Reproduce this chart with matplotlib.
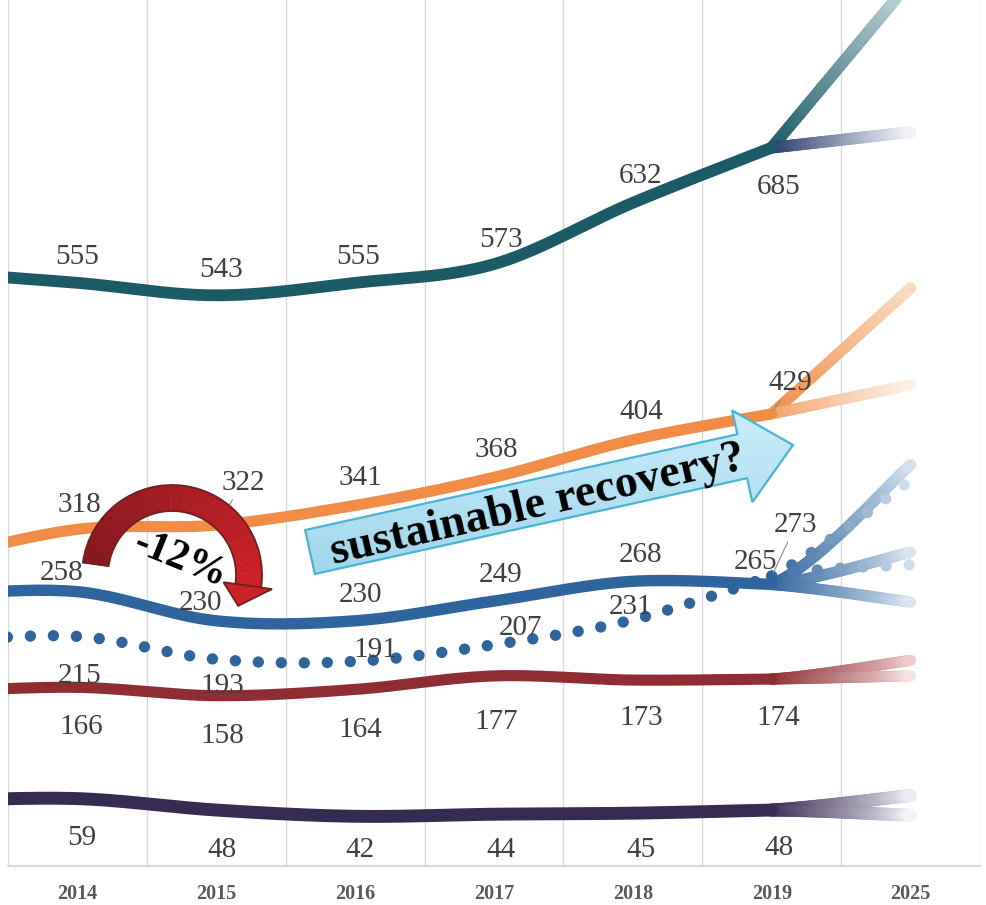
import numpy as np
import matplotlib
matplotlib.use("Agg")
import matplotlib.pyplot as plt
from matplotlib.collections import LineCollection
from matplotlib.patches import Wedge, Polygon, FancyArrow
from matplotlib.colors import to_rgb, LinearSegmentedColormap

plt.rcParams['font.family'] = ['Liberation Serif', 'DejaVu Serif']

years = ["2014", "2015", "2016", "2017", "2018", "2019", "2025"]

teal = [555, 543, 555, 573, 632, 685]
orange = [318, 322, 341, 368, 404, 429]
blue = [258, 230, 230, 249, 268, 265]
blue_dotted = [215, 193, 191, 207, 231, 273]
red = [166, 158, 164, 177, 173, 174]
purple = [59, 48, 42, 44, 45, 48]

teal_2013 = 565
orange_2013 = 290
blue_2013 = 255
blue_dotted_2013 = 210
red_2013 = 162
purple_2013 = 57

# unlabelled 2025 scenario ends
teal_2025 = [845, 700]
orange_2025 = [550, 457]
blue_2025 = [380, 296, 248]
blue_dotted_2025 = [365, 284]
red_2025 = [192, 177]
purple_2025 = [62, 43]

# label offsets in pixels (dx right, dy down)
teal_off = [(0, -26), (5, -25), (3, -26), (7, -24), (8, -27), (7, 39)]
orange_off = [(2, -24), (27, -42), (5, -27), (2, -27), (8, -28), (19, -31)]
blue_off = [(-16, -19), (-16, -18), (5, -26), (7, -26), (8, -26), (-16, -22)]
dotted_off = [(2, 40), (6, 27), (20, -11), (27, -17), (-2, -13), (24, -51)]
red_off = [(4, 40), (6, 40), (5, 41), (2, 46), (8, 38), (7, 39)]
purple_off = [(4, 39), (6, 40), (5, 34), (7, 36), (8, 37), (7, 38)]
leaders = {("orange", 1), ("orange", 5), ("dotted", 5)}


def smooth(xs, ys, n=40):
    pts = np.column_stack([xs, ys]).astype(float)
    p = np.vstack([pts[0], pts, pts[-1]])
    out = []
    t = np.linspace(0, 1, n, endpoint=False)[:, None]
    for i in range(1, len(p) - 2):
        p0, p1, p2, p3 = p[i - 1], p[i], p[i + 1], p[i + 2]
        c1 = p1 + (p2 - p0) / 6
        c2 = p2 - (p3 - p1) / 6
        out.append((1 - t) ** 3 * p1 + 3 * (1 - t) ** 2 * t * c1
                   + 3 * (1 - t) * t ** 2 * c2 + t ** 3 * p2)
    out.append(p[-2][None])
    return np.vstack(out)


def ramp(c0, c1, n):
    a, b = np.array(to_rgb(c0)), np.array(to_rgb(c1))
    f = np.linspace(0, 1, n)[:, None]
    return a + (b - a) * f


fig = plt.figure(figsize=(9.87, 9.05), dpi=100)
ax = fig.add_axes([8 / 987, 39 / 905, 972 / 987, 866 / 905])
ax.set_xlim(-0.5, 6.5)
ax.set_ylim(-5.8, 827)
for s in ["left", "top", "right"]:
    ax.spines[s].set_visible(False)
ax.spines["bottom"].set_color("#d9d9d9")
ax.spines["bottom"].set_linewidth(1.5)
ax.set_yticks([])
ax.set_xticks(range(len(years)))
ax.set_xticklabels(years, fontsize=14.5, fontweight="bold", color="#595959")
ax.tick_params(axis="x", length=0, pad=13)
for gx in np.arange(-0.5, 7, 1):
    ax.axvline(gx, color="#d9d9d9", lw=1, zorder=0)

xs = [-1, 0, 1, 2, 3, 4, 5]


def fan_curve(vals, first, e, straight):
    if straight:
        return np.column_stack([np.linspace(5, 6, 40), np.linspace(vals[-1], e, 40)])
    full = smooth(xs + [6], [first] + vals + [e])
    return full[full[:, 0] >= 5]


def solid_series(vals, first, ends, color, starts, fades, lw, offs, name, straight=False):
    curve = smooth(xs, [first] + vals)
    ax.plot(curve[:, 0], curve[:, 1], color=color, lw=lw,
            solid_capstyle="round", zorder=3)
    for e, c0, c1 in zip(ends, starts, fades):
        fan = fan_curve(vals, first, e, straight)
        segs = np.stack([fan[:-1], fan[1:]], axis=1)
        lc = LineCollection(segs, colors=ramp(c0, c1, len(segs)), linewidths=lw,
                            capstyle="round", zorder=2)
        ax.add_collection(lc)
    label_series(vals, offs, name)


def label_series(vals, offs, name):
    for i, (v, (dx, dy)) in enumerate(zip(vals, offs)):
        kw = {}
        if (name, i) in leaders:
            kw["arrowprops"] = dict(arrowstyle="-", color="#8c8c8c", lw=0.8,
                                    shrinkA=1, shrinkB=3)
        ax.annotate(str(v), (i, v), xytext=(dx, -dy), textcoords="offset pixels",
                    ha="center", va="center", fontsize=21, color="#404040",
                    zorder=6, **kw)


def dotted_series(vals, first, ends, color, fade, size, step, offs):
    fig.canvas.draw()

    def dots(curve, start_col, end_col):
        pix = ax.transData.transform(curve)
        d = np.r_[0, np.cumsum(np.hypot(*np.diff(pix, axis=0).T))]
        at = np.arange(0, d[-1] + 0.01, step)
        px = np.column_stack([np.interp(at, d, pix[:, 0]), np.interp(at, d, pix[:, 1])])
        pts = ax.transData.inverted().transform(px)
        ax.scatter(pts[:, 0], pts[:, 1], s=size, c=ramp(start_col, end_col, len(pts)),
                   linewidths=0, zorder=4)

    dots(smooth(xs, [first] + vals), color, color)
    for e in ends:
        dots(fan_curve(vals, first, e, False), color, fade)
    label_series(vals, offs, "dotted")


solid_series(teal, teal_2013, teal_2025, "#1c5a66",
             ["#1c5a66", "#27396b"], ["#c5d7db", "#eef1f6"], 8.5, teal_off, "teal",
             straight=True)
solid_series(orange, orange_2013, orange_2025, "#f08c45",
             ["#f08c45", "#f3a36b"], ["#fad9c0", "#fdf0e6"], 8, orange_off, "orange",
             straight=True)
solid_series(blue, blue_2013, blue_2025, "#2f649c",
             ["#2f649c"] * 3, ["#d3e0ee", "#dbe5f0", "#dbe5f0"], 8.2, blue_off, "blue")
dotted_series(blue_dotted, blue_dotted_2013, blue_dotted_2025, "#2f649c", "#d0ddec",
              66, 23, dotted_off)
solid_series(red, red_2013, red_2025, "#8e2d33",
             ["#8e2d33"] * 2, ["#eec9cb", "#f5e3e4"], 8, red_off, "red")
solid_series(purple, purple_2013, purple_2025, "#372b52",
             ["#372b52"] * 2, ["#eceaf2", "#f3f2f7"], 9.3, purple_off, "purple")

# overlay in pixel coordinates for the hand-drawn callouts
ov = fig.add_axes([0, 0, 1, 1], zorder=5)
ov.axis("off")
ov.patch.set_alpha(0)
H = 905

# curved "-12%" arrow
cx, cy, r_out, w = 172, H - 575, 90, 26
n = 40
angles = np.linspace(172, -8, n + 1)
cols = ramp("#84191f", "#cd2129", n)
for k in range(n):
    ov.add_patch(Wedge((cx, cy), r_out, angles[k + 1], angles[k] + 0.4, width=w,
                       facecolor=cols[k], edgecolor="none", zorder=1))
ov.add_patch(Wedge((cx, cy), r_out, -8, 172, width=w, facecolor="none",
                   edgecolor="#6e2020", lw=1.3, zorder=2))


def polar(r, a):
    return (cx + r * np.cos(np.radians(a)), cy + r * np.sin(np.radians(a)))


ov.add_patch(Polygon([polar(52, -8), polar(101, -8), polar(73, -25)],
                     closed=True, facecolor="#cc2129", edgecolor="#6e2020",
                     lw=1.3, zorder=2))
ov.text(180, H - 560, "-12%", rotation=-22, ha="center", va="center",
        fontsize=30, fontweight="bold", color="black", zorder=3)

# "sustainable recovery?" block arrow
arrow = FancyArrow(310, H - 552, 483, 107, width=45, head_width=94, head_length=52,
                   length_includes_head=True, fc="none", ec="#49b5d6", lw=1.6, zorder=5)
ov.add_patch(arrow)
grad = np.linspace(0, 1, 200)[:, None] * np.ones((1, 2))
cmap = LinearSegmentedColormap.from_list("sky", ["#9fd5ec", "#cdeefa"])
im = ov.imshow(grad, extent=(300, 800, H - 580, H - 400), origin="lower", cmap=cmap,
               aspect="auto", zorder=4)
im.set_clip_path(arrow)
ov.set_xlim(0, 987)
ov.set_ylim(0, 905)
ov.text(540, H - 517, "sustainable recovery?", rotation=13, rotation_mode="anchor",
        ha="center", va="baseline", fontsize=33, fontweight="bold", color="black",
        zorder=6)

fig.savefig("out.png", dpi=100)
